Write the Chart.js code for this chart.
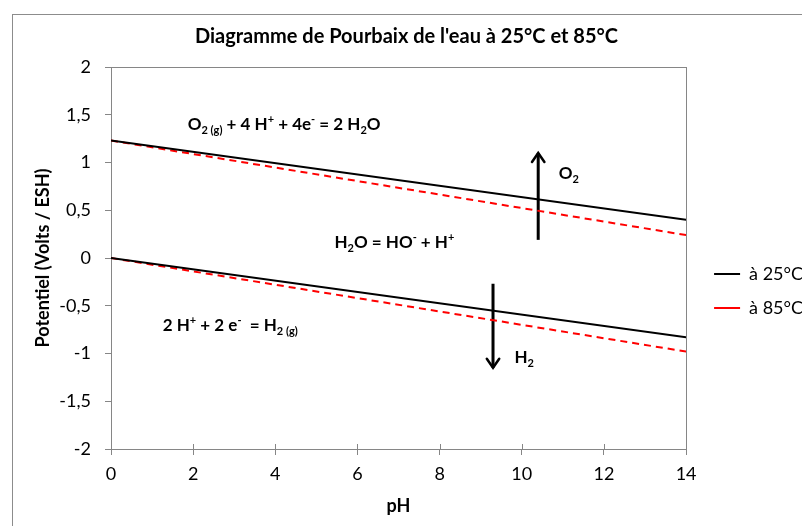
<!DOCTYPE html>
<html>
<head>
<meta charset="utf-8">
<script src="https://cdn.jsdelivr.net/npm/chart.js@4.4.1/dist/chart.umd.min.js"></script>
<style>
html, body { margin: 0; padding: 0; background: #fff; overflow: hidden; }
#wrap { position: absolute; left: 0; top: 0; width: 830px; height: 582px; }
</style>
</head>
<body>
<div id="wrap"><canvas id="chart" width="830" height="582"></canvas></div>
<script>
const phRange = [0, 14];
const e25O2 = [1.23, 0.40];
const e85O2 = [1.23, 0.24];
const e25H2 = [0, -0.83];
const e85H2 = [0, -0.98];

// flèches (pH, [départ, pointe])
const arrowO2X = 10.4;
const arrowO2Y = [0.19, 1.10];
const arrowH2X = 9.3;
const arrowH2Y = [-0.27, -1.15];

const yTicks = [-2, -1.5, -1, -0.5, 0, 0.5, 1, 1.5, 2];

// étiquettes : position en (pH, E), morceaux de texte [texte, mode]
const labels = [
    { x: 1.87, y: 1.40, parts: [['O', 'n'], ['2 (g)', 'sub'], [' + 4 H', 'n'], ['+', 'sup'], [' + 4e', 'n'], ['-', 'sup'], [' = 2 H', 'n'], ['2', 'sub'], ['O', 'n']] },
    { x: 5.44, y: 0.17, parts: [['H', 'n'], ['2', 'sub'], ['O = HO', 'n'], ['-', 'sup'], [' + H', 'n'], ['+', 'sup']] },
    { x: 1.26, y: -0.70, parts: [['2 H', 'n'], ['+', 'sup'], [' + 2 e', 'n'], ['-', 'sup'], ['  = H', 'n'], ['2 (g)', 'sub']] },
    { x: 10.9, y: 0.89, parts: [['O', 'n'], ['2', 'sub']] },
    { x: 9.82, y: -1.04, parts: [['H', 'n'], ['2', 'sub']] }
];

const FONT = 'Lato, "Open Sans", sans-serif';
Chart.defaults.font.family = FONT;
Chart.defaults.color = '#000';

const toPoints = (xs, ys) => xs.map((x, i) => ({ x: x, y: ys[i] }));

function drawRich(ctx, parts, x, y) {
    let cx = x;
    const base = y + 6;
    parts.forEach(([txt, mode]) => {
        const size = mode === 'n' ? 17 : 11;
        ctx.font = 'bold ' + size + 'px ' + FONT;
        const dy = mode === 'sub' ? 4 : (mode === 'sup' ? -7 : 0);
        ctx.fillText(txt, cx, base + dy);
        cx += ctx.measureText(txt).width;
    });
}

const decorPlugin = {
    id: 'decor',
    beforeDraw(chart) {
        const ctx = chart.ctx;
        ctx.save();
        ctx.fillStyle = '#fff';
        ctx.fillRect(0, 0, chart.width, chart.height);
        ctx.strokeStyle = '#8c8c8c';
        ctx.lineWidth = 1;
        ctx.strokeRect(12.5, 14.5, chart.width, chart.height);
        ctx.restore();
    },
    beforeDatasetsDraw(chart) {
        const ctx = chart.ctx;
        const a = chart.chartArea;
        const xs = chart.scales.x;
        ctx.save();
        ctx.strokeStyle = '#868686';
        ctx.lineWidth = 1;
        ctx.strokeRect(Math.round(a.left) + 0.5, Math.round(a.top) + 0.5, Math.round(a.right - a.left), Math.round(a.bottom - a.top));
        // graduations vers l'intérieur sur l'axe des pH
        xs.ticks.forEach(t => {
            const px = Math.round(xs.getPixelForValue(t.value)) + 0.5;
            ctx.beginPath();
            ctx.moveTo(px, a.bottom);
            ctx.lineTo(px, a.bottom - 5);
            ctx.stroke();
        });
        ctx.restore();
    },
    afterDatasetsDraw(chart) {
        const ctx = chart.ctx;
        const xs = chart.scales.x;
        const ys = chart.scales.y;
        ctx.save();
        // pointes des flèches
        chart.data.datasets.forEach((ds, i) => {
            if (!ds.arrow) return;
            const meta = chart.getDatasetMeta(i);
            const p0 = meta.data[0], p1 = meta.data[1];
            const ang = Math.atan2(p1.y - p0.y, p1.x - p0.x);
            const len = 11, spread = 0.6;
            ctx.strokeStyle = '#000';
            ctx.lineWidth = 2.5;
            ctx.lineCap = 'round';
            ctx.beginPath();
            ctx.moveTo(p1.x - len * Math.cos(ang - spread), p1.y - len * Math.sin(ang - spread));
            ctx.lineTo(p1.x, p1.y);
            ctx.lineTo(p1.x - len * Math.cos(ang + spread), p1.y - len * Math.sin(ang + spread));
            ctx.stroke();
        });
        // textes des réactions
        ctx.fillStyle = '#000';
        ctx.textBaseline = 'alphabetic';
        ctx.textAlign = 'left';
        labels.forEach(l => {
            drawRich(ctx, l.parts, xs.getPixelForValue(l.x), ys.getPixelForValue(l.y));
        });
        ctx.restore();
    }
};

const ctx = document.getElementById('chart').getContext('2d');
new Chart(ctx, {
    type: 'scatter',
    data: {
        datasets: [
            { label: 'à 25°C', data: toPoints(phRange, e25O2), showLine: true, borderColor: '#000', borderWidth: 2, pointRadius: 0, legend: true },
            { label: 'à 85°C', data: toPoints(phRange, e85O2), showLine: true, borderColor: '#ff0000', borderWidth: 2, borderDash: [7, 5], pointRadius: 0, legend: true },
            { label: 'H2 25', data: toPoints(phRange, e25H2), showLine: true, borderColor: '#000', borderWidth: 2, pointRadius: 0 },
            { label: 'H2 85', data: toPoints(phRange, e85H2), showLine: true, borderColor: '#ff0000', borderWidth: 2, borderDash: [7, 5], pointRadius: 0 },
            { label: 'flèche O2', data: toPoints([arrowO2X, arrowO2X], arrowO2Y), showLine: true, borderColor: '#000', borderWidth: 3, pointRadius: 0, arrow: true },
            { label: 'flèche H2', data: toPoints([arrowH2X, arrowH2X], arrowH2Y), showLine: true, borderColor: '#000', borderWidth: 3, pointRadius: 0, arrow: true }
        ]
    },
    options: {
        responsive: false,
        animation: false,
        devicePixelRatio: 1,
        layout: { padding: { left: 0, right: 17, top: 0, bottom: 0 } },
        plugins: {
            title: {
                display: true,
                text: "Diagramme de Pourbaix de l'eau à 25°C et 85°C",
                color: '#000',
                font: { size: 20, weight: 'bold' },
                padding: { top: 25, bottom: 18 }
            },
            legend: {
                display: true,
                position: 'right',
                labels: {
                    usePointStyle: true,
                    pointStyle: 'line',
                    pointStyleWidth: 26,
                    boxHeight: 16,
                    padding: 16,
                    color: '#000',
                    font: { size: 18 },
                    filter: (item, data) => !!data.datasets[item.datasetIndex].legend
                }
            },
            tooltip: { enabled: false }
        },
        scales: {
            x: {
                type: 'linear',
                min: 0,
                max: 14,
                afterFit: s => { s.height = 133; },
                ticks: { stepSize: 2, padding: 8, color: '#000', font: { size: 18 } },
                grid: { drawOnChartArea: false, drawTicks: true, tickLength: 6, color: '#868686' },
                border: { color: '#868686' },
                title: { display: true, text: 'pH', color: '#000', font: { size: 18, weight: 'bold' }, padding: { top: 10, bottom: 65 } }
            },
            y: {
                type: 'linear',
                min: -2,
                max: 2,
                afterBuildTicks: s => { s.ticks = yTicks.map(v => ({ value: v })); },
                afterFit: s => { s.width = 111; },
                ticks: { padding: 14, color: '#000', font: { size: 18 }, callback: v => String(v).replace('.', ',') },
                grid: { drawOnChartArea: false, drawTicks: true, tickLength: 6, color: '#868686' },
                border: { color: '#868686' },
                title: { display: true, text: 'Potentiel (Volts / ESH)', color: '#000', font: { size: 18, weight: 'bold' }, padding: { top: 32, bottom: 8 } }
            },
            gap: {
                type: 'linear',
                position: 'right',
                display: true,
                grid: { display: false },
                border: { display: false },
                ticks: { display: false },
                afterFit: s => { s.width = 12; }
            }
        }
    },
    plugins: [decorPlugin]
});
</script>
</body>
</html>
